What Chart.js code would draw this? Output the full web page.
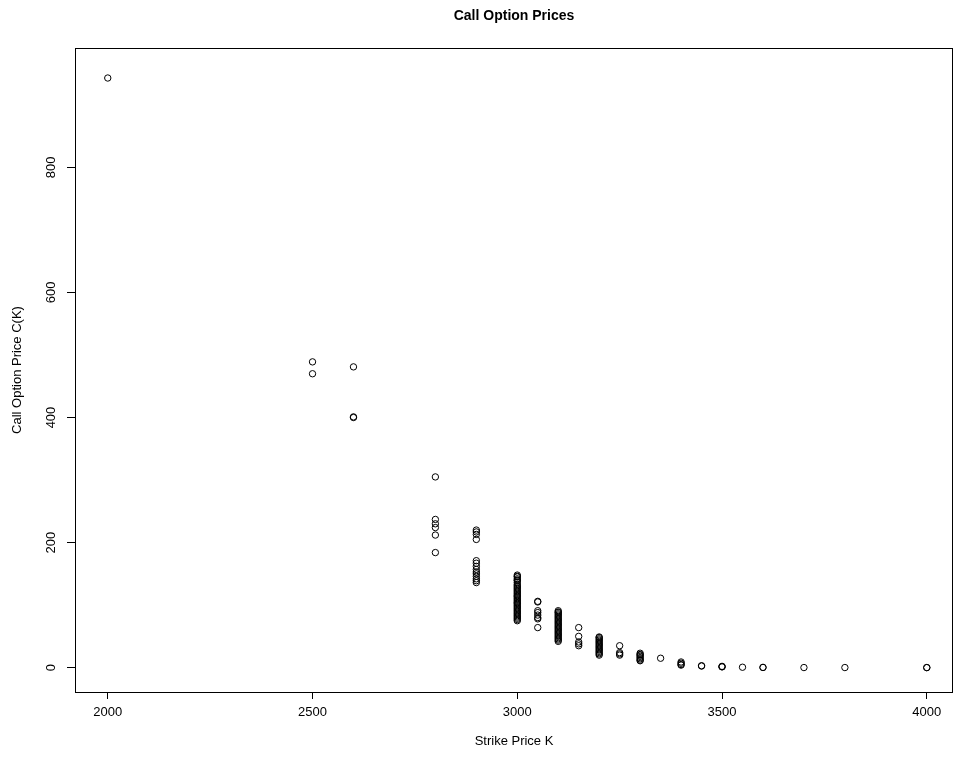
<!DOCTYPE html>
<html>
<head>
<meta charset="utf-8">
<script src="https://cdn.jsdelivr.net/npm/chart.js@4/dist/chart.umd.min.js"></script>
<style>
  html, body { margin: 0; padding: 0; background: #fff; }
  #wrap { width: 954px; height: 758px; }
</style>
</head>
<body>
<div id="wrap"><canvas id="c" width="954" height="758"></canvas></div>
<script>
// Call prices, grouped by strike.
const strikes = [2000, 2500, 2600, 2800, 2900, 3000, 3050, 3100, 3150, 3200,
                 3250, 3300, 3350, 3400, 3450, 3500, 3550, 3600, 3700, 3800, 4000];
const pricesByStrike = [
  [943],
  [489, 470],
  [481, 401, 400],
  [305, 237, 230, 224, 212, 184],
  [220, 217, 213, 205, 171, 167, 162, 157, 153, 150, 146, 142, 139, 136],
  [148, 146, 145, 142, 140, 139, 136, 133, 131, 129, 127, 125, 123, 121, 119, 117, 115, 114,
   112, 110, 108, 106, 104, 103, 101, 99, 97, 95, 93, 91, 89, 87, 85, 83, 81, 79, 77, 75],
  [106, 105, 91, 88, 84, 80, 78, 64],
  [91, 89, 88, 86, 84, 82, 80, 78, 76, 74, 72, 70, 68, 66, 64, 62, 60, 58, 56, 54,
   52, 50, 48, 46, 44, 42],
  [64, 50, 41, 38, 35],
  [49, 48, 46, 44, 42, 40, 38, 36, 34, 32, 30, 28, 26, 24, 22, 20],
  [35, 24, 22, 20],
  [23, 21, 20, 18, 16, 14, 12, 11],
  [15],
  [9, 7, 5, 4],
  [3, 2.5],
  [2, 1.5, 1.2],
  [0.6],
  [0.4, 0.2],
  [0.1],
  [0.1],
  [0.05, 0.02],
];
const xTicks = [2000, 2500, 3000, 3500, 4000];
const yTicks = [0, 200, 400, 600, 800];

const FONT = "'Liberation Sans', Arial, sans-serif";

const points = [];
strikes.forEach((k, i) => pricesByStrike[i].forEach((c) => points.push({ x: k, y: c })));

// Box around the plot region, rotated y tick labels and the main title (R style).
const rFrame = {
  id: "rFrame",
  afterDraw(chart) {
    const { ctx, chartArea: a, scales } = chart;
    ctx.save();
    ctx.strokeStyle = "#000";
    ctx.lineWidth = 1;
    ctx.strokeRect(a.left + 0.5, a.top + 0.5, a.right - a.left - 1, a.bottom - a.top);

    ctx.fillStyle = "#000";
    ctx.font = "13px " + FONT;
    ctx.textAlign = "center";
    ctx.textBaseline = "middle";
    yTicks.forEach((v) => {
      const y = scales.y.getPixelForValue(v);
      ctx.save();
      ctx.translate(51, y);
      ctx.rotate(-Math.PI / 2);
      ctx.fillText(String(v), 0, 0);
      ctx.restore();
    });

    ctx.font = "bold 14px " + FONT;
    ctx.fillText("Call Option Prices", (a.left + a.right) / 2, 16);
    ctx.restore();
  },
};

new Chart(document.getElementById("c"), {
  type: "scatter",
  data: {
    datasets: [{
      data: points,
      pointStyle: "circle",
      pointRadius: 3.2,
      pointBorderWidth: 1,
      pointBorderColor: "#000",
      pointBackgroundColor: "rgba(0,0,0,0)",
    }],
  },
  options: {
    responsive: false,
    animation: false,
    events: [],
    layout: { autoPadding: false, padding: { top: 48, right: 1, bottom: 0, left: 0 } },
    plugins: { legend: { display: false }, tooltip: { enabled: false } },
    scales: {
      x: {
        type: "linear",
        min: 1920,
        max: 4064,
        afterBuildTicks(s) { s.ticks = xTicks.map((v) => ({ value: v })); },
        afterFit(s) { s.height = 66; s.paddingLeft = 0; s.paddingRight = 0; },
        border: { display: false },
        grid: { drawOnChartArea: false, drawTicks: true, tickLength: 7, color: "#000" },
        ticks: {
          color: "#000", padding: 6, maxRotation: 0,
          font: { family: FONT, size: 13 },
          callback: (v) => String(v),
        },
        title: {
          display: true, text: "Strike Price K", color: "#000",
          font: { family: FONT, size: 13 }, padding: { top: 0, bottom: 9 },
        },
      },
      y: {
        type: "linear",
        min: -39,
        max: 991,
        afterBuildTicks(s) { s.ticks = yTicks.map((v) => ({ value: v })); },
        afterFit(s) { s.width = 75; s.paddingTop = 0; s.paddingBottom = 0; },
        border: { display: false },
        grid: { drawOnChartArea: false, drawTicks: true, tickLength: 8, color: "#000" },
        ticks: { display: false },
        title: {
          display: true, text: "Call Option Price C(K)", color: "#000",
          font: { family: FONT, size: 13 }, padding: { top: 10, bottom: 0 },
        },
      },
    },
  },
  plugins: [rFrame],
});
</script>
</body>
</html>
